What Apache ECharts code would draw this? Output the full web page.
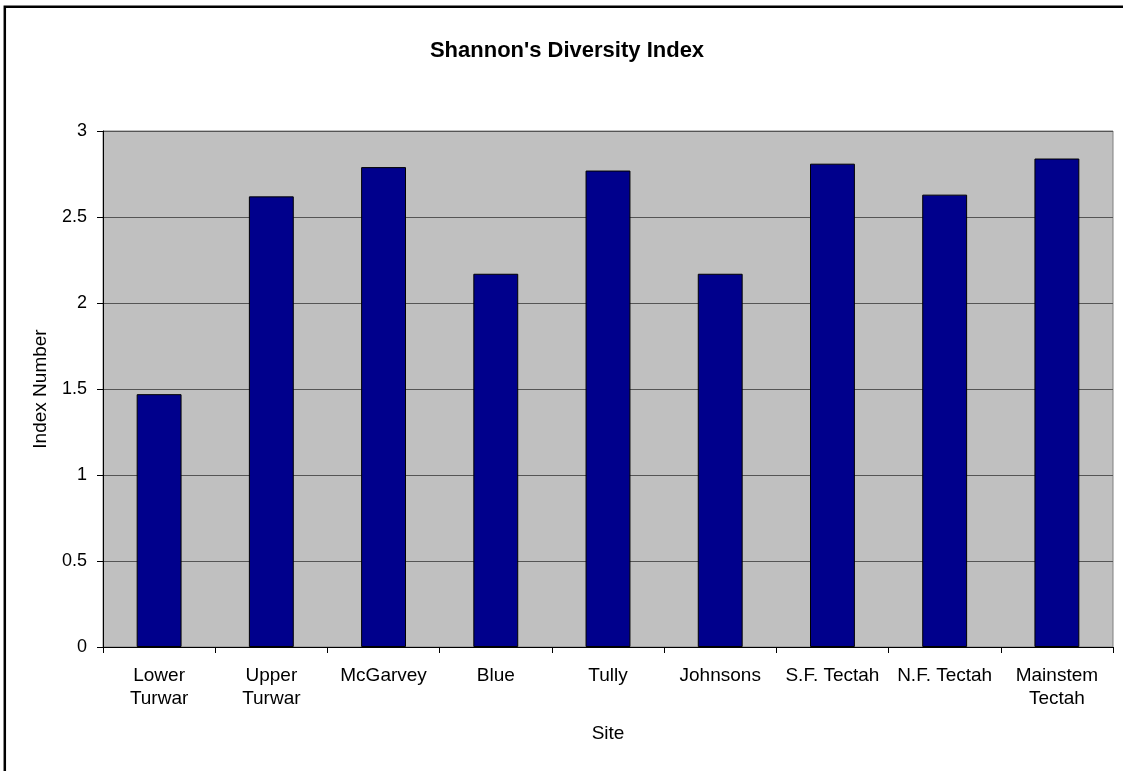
<!DOCTYPE html>
<html>
<head>
<meta charset="utf-8">
<script src="https://cdn.jsdelivr.net/npm/echarts@6/dist/echarts.min.js"></script>
<style>
html,body{margin:0;padding:0;background:#fff;}
#chart{width:1123px;height:771px;}
</style>
</head>
<body>
<div id="chart"></div>
<script>
var titleText = "Shannon's Diversity Index";
var categories = ['Lower\nTurwar', 'Upper\nTurwar', 'McGarvey', 'Blue', 'Tully', 'Johnsons', 'S.F. Tectah', 'N.F. Tectah', 'Mainstem\nTectah'];
var values = [1.47, 2.62, 2.79, 2.17, 2.77, 2.17, 2.81, 2.63, 2.84];
var xAxisName = 'Site';
var yAxisName = 'Index Number';

var FONT = "'Liberation Sans', Arial, sans-serif";
var chart = echarts.init(document.getElementById('chart'), null, {renderer: 'canvas'});
chart.setOption({
  animation: false,
  backgroundColor: '#ffffff',
  graphic: [
    {
      type: 'rect',
      shape: {x: 4.8, y: 6.8, width: 1300, height: 900},
      style: {fill: 'none', stroke: '#000', lineWidth: 2.5},
      silent: true, z: 100
    },
    {
      type: 'text',
      x: 567, y: 51,
      style: {
        text: titleText,
        font: 'bold 22px ' + FONT,
        fill: '#000',
        textAlign: 'center',
        textVerticalAlign: 'middle'
      }
    }
  ],
  grid: {
    left: 103, top: 131, right: 10, bottom: 124,
    show: true,
    backgroundColor: '#C0C0C0',
    borderColor: '#808080',
    borderWidth: 1
  },
  xAxis: {
    type: 'category',
    data: categories,
    boundaryGap: true,
    name: xAxisName,
    nameLocation: 'middle',
    nameGap: 77,
    nameTextStyle: {fontFamily: FONT, fontSize: 19, color: '#000'},
    axisLine: {lineStyle: {color: '#000', width: 1}},
    axisTick: {show: true, alignWithLabel: false, length: 6, lineStyle: {color: '#000'}},
    axisLabel: {interval: 0, fontFamily: FONT, fontSize: 19, color: '#000', margin: 17, lineHeight: 23},
    splitLine: {show: false}
  },
  yAxis: {
    type: 'value',
    min: 0, max: 3, interval: 0.5,
    name: yAxisName,
    nameLocation: 'middle',
    nameGap: 53,
    nameTextStyle: {fontFamily: FONT, fontSize: 19, color: '#000'},
    axisLine: {show: true, lineStyle: {color: '#000', width: 1}},
    axisTick: {show: true, length: 6, lineStyle: {color: '#000'}},
    axisLabel: {fontFamily: FONT, fontSize: 18, color: '#000', margin: 16},
    splitLine: {show: true, lineStyle: {color: '#555555', width: 1}}
  },
  series: [{
    type: 'bar',
    data: values,
    barWidth: '40%',
    itemStyle: {color: '#00008C', borderColor: '#000', borderWidth: 1}
  }]
});
</script>
</body>
</html>
